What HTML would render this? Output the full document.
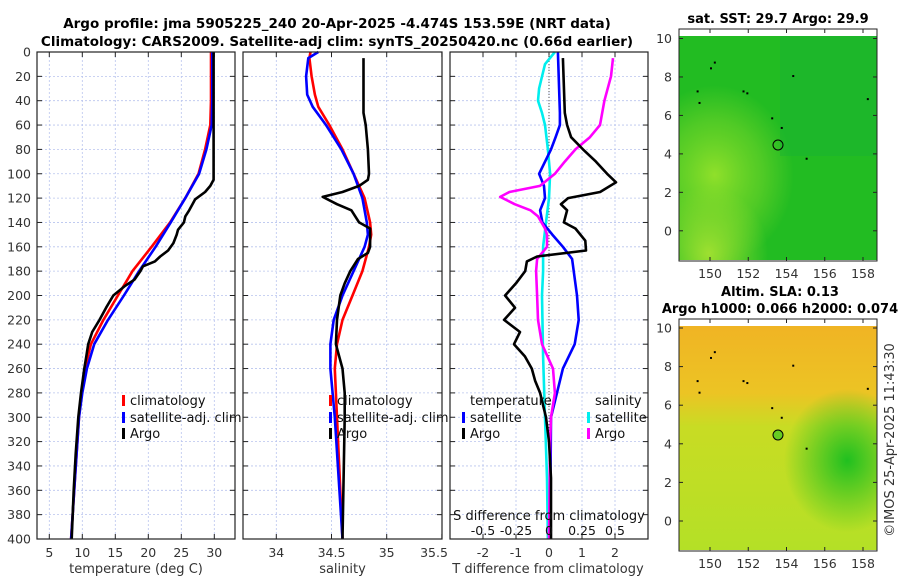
<!DOCTYPE html>
<html><head><meta charset="utf-8"><style>
body{margin:0;background:#fff}
svg{display:block;font-family:"DejaVu Sans","Liberation Sans",sans-serif}
</style></head><body>
<svg id="c" width="900" height="580" viewBox="0 0 900 580">
<defs>
<radialGradient id="g1" cx="0.18" cy="0.62" r="0.4"><stop offset="0" stop-color="#90e02a"/><stop offset="0.6" stop-color="#70d428" stop-opacity="0.6"/><stop offset="1" stop-color="#70d428" stop-opacity="0"/></radialGradient>
<radialGradient id="g1b" cx="0.15" cy="0.97" r="0.3"><stop offset="0" stop-color="#9ee030"/><stop offset="1" stop-color="#9ee030" stop-opacity="0"/></radialGradient>
<linearGradient id="g2" x1="0" y1="0" x2="0" y2="1"><stop offset="0" stop-color="#f0b424"/><stop offset="0.3" stop-color="#ecc424"/><stop offset="0.45" stop-color="#c8dc24"/><stop offset="1" stop-color="#b4e026"/></linearGradient>
<radialGradient id="g2b" cx="0.85" cy="0.6" r="0.32"><stop offset="0" stop-color="#20c020"/><stop offset="1" stop-color="#20c020" stop-opacity="0"/></radialGradient>
</defs>
<g font-weight="bold" font-size="13.5" text-anchor="middle" fill="#000">
<text x="337" y="28">Argo profile: jma 5905225_240 20-Apr-2025 -4.474S 153.59E (NRT data)</text>
<text x="337" y="46">Climatology: CARS2009. Satellite-adj clim: synTS_20250420.nc (0.66d earlier)</text>
</g>
<g id="panels"></g>
<g>
<text x="778" y="23" font-size="13" font-weight="bold" text-anchor="middle">sat. SST: 29.7 Argo: 29.9</text>
<rect x="679" y="36" width="198" height="224" fill="#22bc22"/>
<rect x="679" y="36" width="198" height="224" fill="url(#g1)"/>
<rect x="679" y="36" width="198" height="224" fill="url(#g1b)"/>
<rect x="780" y="36" width="97" height="120" fill="#14b038" opacity="0.35"/>
<circle cx="778" cy="145" r="5" fill="none" stroke="#000"/>
<rect x="679" y="29" width="198" height="232" fill="none" stroke="#222"/>
</g>
<g>
<text x="780" y="296" font-size="13" font-weight="bold" text-anchor="middle">Altim. SLA: 0.13</text>
<text x="780" y="313" font-size="13" font-weight="bold" text-anchor="middle">Argo h1000: 0.066 h2000: 0.074</text>
<rect x="679" y="326" width="198" height="224" fill="url(#g2)"/>
<rect x="679" y="326" width="198" height="224" fill="url(#g2b)"/>
<circle cx="778" cy="435" r="5" fill="#66cc22" stroke="#000"/>
<rect x="679" y="319" width="198" height="232" fill="none" stroke="#222"/>
</g>
<text transform="translate(894,440) rotate(-90)" font-size="13" fill="#333" text-anchor="middle">©IMOS 25-Apr-2025 11:43:30</text>
<g id="maps"></g>
</svg>
<script>
const depthTicks=[0,20,40,60,80,100,120,140,160,180,200,220,240,260,280,300,320,340,360,380,400];
const tDepth=[0,60,80,100,105,110,115,121,130,135,140,146,150,157,163,168,172,176,180,187,192,200,210,220,230,240,250,260,280,300,330,360,400];
const tArgo=[29.9,29.9,29.9,29.9,29.9,29.4,28.6,27.1,26.2,25.6,25.4,24.5,24.3,23.8,23,21.8,21,19.2,18.8,17.9,16.5,14.7,13.6,12.6,11.5,10.9,10.6,10.3,9.8,9.4,9,8.7,8.4];
const cDepth=[0,40,60,80,100,120,140,160,180,200,220,240,260,280,300,350,400];
const tClim=[29.5,29.5,29.4,28.6,27.6,25.6,23.3,20.5,17.6,15.4,13.2,11.3,10.4,9.9,9.5,8.9,8.3];
const tSat=[29.7,29.7,29.6,28.8,27.7,25.6,23.4,21.1,18.6,16.3,13.9,11.8,10.7,10,9.5,8.9,8.3];
const sDepth=[0,5,20,35,45,60,80,100,120,140,150,160,180,200,220,240,260,300,400];
const sClim=[34.31,34.3,34.32,34.35,34.38,34.48,34.6,34.7,34.8,34.85,34.86,34.84,34.78,34.69,34.6,34.55,34.53,34.55,34.6];
const sSat=[34.38,34.29,34.27,34.28,34.33,34.45,34.59,34.7,34.78,34.82,34.83,34.8,34.7,34.6,34.52,34.49,34.49,34.53,34.6];
const saDepth=[5,50,60,80,100,105,110,115,119,125,130,140,145,160,165,170,180,190,200,220,240,260,280,300,350,400];
const sArgo=[34.79,34.79,34.81,34.83,34.84,34.83,34.75,34.6,34.42,34.55,34.68,34.75,34.85,34.85,34.83,34.74,34.67,34.62,34.58,34.55,34.54,34.6,34.62,34.62,34.61,34.6];
const dtSatDepth=[0,50,60,70,80,100,110,120,130,140,150,160,170,200,220,240,260,300,400];
const dtSat=[0.27,0.33,0.33,0.2,0.06,-0.3,-0.15,-0.12,-0.27,-0.2,0.1,0.42,0.7,0.85,0.9,0.78,0.42,0.06,0.03];
const dtArgoDepth=[5,50,60,70,80,90,100,107,115,120,125,130,140,145,155,163,168,172,180,190,200,210,220,230,240,250,260,270,280,300,320,350,400];
const dtArgo=[0.42,0.48,0.55,0.67,1.03,1.42,1.76,2.03,1.55,0.58,0.36,0.55,0.45,0.8,1.1,1.12,-0.36,-0.67,-0.72,-1,-1.33,-1.03,-1.36,-0.88,-1.06,-0.73,-0.52,-0.42,-0.27,-0.09,0,0.06,0.06];
const dsSatDepth=[0,10,30,40,50,60,80,100,120,140,160,180,200,250,300,350,400];
const dsSat=[0.045,-0.03,-0.075,-0.083,-0.053,-0.03,-0.008,0.008,0,-0.023,-0.045,-0.045,-0.053,-0.045,-0.03,-0.015,-0.008];
const dsArgoDepth=[5,20,40,60,70,80,90,100,110,115,119,125,130,135,145,150,160,170,180,200,220,240,260,280,300,320,400];
const dsArgo=[0.485,0.47,0.42,0.386,0.31,0.2,0.12,0.045,-0.068,-0.3,-0.37,-0.26,-0.14,-0.083,-0.03,-0.015,-0.015,-0.09,-0.098,-0.09,-0.083,-0.053,0.03,0.045,0.015,0.008,0];
const tTicks=[5,10,15,20,25,30];
const sTicks=[34,34.5,35,35.5];
const dtTicks=[-2,-1,0,1,2];
const dtTickLabels=["-2","-1","0","1","2"];
const dsTicks=[-0.5,-0.25,0,0.25,0.5];
const dsTickLabels=["-0.5","-0.25","0","0.25","0.5"];
const latTicks=[10,8,6,4,2,0];
const lonTicks=[150,152,154,156,158];

const NS="http://www.w3.org/2000/svg";
function mk(tag,at,parent,txt){const e=document.createElementNS(NS,tag);for(const k in at)e.setAttribute(k,at[k]);if(txt!==undefined)e.textContent=txt;parent.appendChild(e);return e;}
const Y0=52,Y1=539;
const yD=d=>Y0+d*(Y1-Y0)/400;
const panelsG=document.getElementById('panels');
function lin(d0,d1,r0,r1){return v=>r0+(v-d0)*(r1-r0)/(d1-d0);}
const P=[
 {x0:37,x1:235,sc:lin(5,30,49.3,214.3),ticks:tTicks,labels:tTicks.map(String),xlabel:"temperature (deg C)",name:"temperature-panel"},
 {x0:243,x1:442,sc:lin(34,35,276.3,386.7),ticks:sTicks,labels:sTicks.map(String),xlabel:"salinity",name:"salinity-panel"},
 {x0:450,x1:648,sc:lin(0,1,549,582),ticks:dtTicks,labels:dtTickLabels,xlabel:"T difference from climatology",name:"difference-panel"}
];
P.forEach((p,i)=>{
 const g=mk('g',{},panelsG);
 
 
 p.g=g;
 const grid=[];
 if(i===0)tTicks.forEach(t=>grid.push(p.sc(t)));
 if(i===1)[34,34.5,35].forEach(t=>grid.push(p.sc(t)));
 if(i===2)[-2,-1,0,1,2].forEach(t=>grid.push(p.sc(t)));
 grid.forEach(x=>mk('line',{x1:x,x2:x,y1:Y0,y2:Y1,stroke:"#b8c4ee","stroke-width":0.8,"stroke-dasharray":"2,2"},g));
 depthTicks.forEach(d=>{if(d>0&&d<400)mk('line',{x1:p.x0,x2:p.x1,y1:yD(d),y2:yD(d),stroke:"#b8c4ee","stroke-width":0.8,"stroke-dasharray":"2,2"},g);
  mk('line',{x1:p.x0,x2:p.x0+5,y1:yD(d),y2:yD(d),stroke:"#222"},g);
  mk('line',{x1:p.x1-5,x2:p.x1,y1:yD(d),y2:yD(d),stroke:"#222"},g);});
 p.ticks.forEach((t,k)=>{const x=p.sc(t);
  if(x>p.x0&&x<p.x1){mk('line',{x1:x,x2:x,y1:Y1,y2:Y1-5,stroke:"#222"},g);mk('line',{x1:x,x2:x,y1:Y0,y2:Y0+5,stroke:"#222"},g);}
  const tx=mk('text',{x:(i===1&&t===35.5)?434:x,y:557,"font-size":12.5,fill:"#333","text-anchor":"middle"},g,p.labels[k]);
  
  });
 const xl=mk('text',{x:(p.x0+p.x1)/2+(i==2?-1:0),y:573,"font-size":13,fill:"#333","text-anchor":"middle"},g,p.xlabel);
 
 
});
depthTicks.forEach(d=>{const t=mk('text',{x:31,y:yD(d)+4.5,"font-size":12.5,fill:"#333","text-anchor":"end"},panelsG,String(d));
 
 });
mk('line',{x1:549,x2:549,y1:Y0,y2:Y1,stroke:"#555","stroke-dasharray":"1,2"},P[2].g);
function line(g,xs,ds,sc,col,name){const pts=xs.map((v,k)=>sc(v).toFixed(1)+","+yD(ds[k]).toFixed(1)).join(" ");
 const l=mk('polyline',{points:pts,fill:"none",stroke:col,"stroke-width":2.6,"stroke-linejoin":"round"},g);
 
 }
const tS=P[0].sc,sS=P[1].sc,dS=P[2].sc,dsS=v=>dS(v*4);
line(P[0].g,tClim,cDepth,tS,"#f00","temperature-climatology-line");
line(P[0].g,tSat,cDepth,tS,"#00f","temperature-satellite-line");
line(P[0].g,tArgo,tDepth,tS,"#000","temperature-argo-line");
line(P[1].g,sClim,sDepth,sS,"#f00","salinity-climatology-line");
line(P[1].g,sSat,sDepth,sS,"#00f","salinity-satellite-line");
line(P[1].g,sArgo,saDepth,sS,"#000","salinity-argo-line");
line(P[2].g,dsSat,dsSatDepth,dsS,"#0ee","salinity-satellite-diff-line");
line(P[2].g,dtSat,dtSatDepth,dS,"#00f","temperature-satellite-diff-line");
line(P[2].g,dsArgo,dsArgoDepth,dsS,"#f0f","salinity-argo-diff-line");
line(P[2].g,dtArgo,dtArgoDepth,dS,"#000","temperature-argo-diff-line");
const sl=mk('text',{x:549,y:520,"font-size":13,fill:"#111","text-anchor":"middle"},P[2].g,"S difference from climatology");


dsTicks.forEach((v,k)=>{const t=mk('text',{x:dsS(v),y:535,"font-size":12.5,fill:"#111","text-anchor":"middle"},P[2].g,dsTickLabels[k]);
 
 });
function leg(g,x,y,col,label){const e=mk('g',{},g);
 
 
 mk('rect',{x:x,y:y-10,width:3,height:11,fill:col},e);
 mk('text',{x:x+8,y:y,"font-size":13,fill:"#111"},e,label);}
[[P[0].g,122],[P[1].g,329]].forEach(([g,x])=>{leg(g,x,405,"#f00","climatology");leg(g,x,422,"#00f","satellite-adj. clim");leg(g,x,438,"#000","Argo");});
mk('text',{x:470,y:405,"font-size":13,fill:"#111"},P[2].g,"temperature");
leg(P[2].g,462,422,"#00f","satellite");leg(P[2].g,462,438,"#000","Argo");
mk('text',{x:595,y:405,"font-size":13,fill:"#111"},P[2].g,"salinity");
leg(P[2].g,587,422,"#0ee","satellite");leg(P[2].g,587,438,"#f0f","Argo");
P.forEach(p=>mk('rect',{x:p.x0,y:Y0,width:p.x1-p.x0,height:Y1-Y0,fill:"none",stroke:"#222","stroke-width":1.2},p.g));
const mapsG=document.getElementById('maps');
[[29,261,38.5,230.8],[319,551,328,521]].forEach(([t,b,y10,y0])=>{
 const ly=lin(10,0,y10,y0),lx=lin(150,158,710,863);
 latTicks.forEach(v=>{const y=ly(v);mk('line',{x1:679,x2:683,y1:y,y2:y,stroke:"#222"},mapsG);mk('line',{x1:873,x2:877,y1:y,y2:y,stroke:"#222"},mapsG);
  const tx=mk('text',{x:672,y:y+4.5,"font-size":12.5,fill:"#333","text-anchor":"end"},mapsG,String(v));
  
  });
 lonTicks.forEach(v=>{const x=lx(v);mk('line',{x1:x,x2:x,y1:b,y2:b-4,stroke:"#222"},mapsG);mk('line',{x1:x,x2:x,y1:t,y2:t+4,stroke:"#222"},mapsG);
  const tx=mk('text',{x:x,y:b+17,"font-size":12.5,fill:"#333","text-anchor":"middle"},mapsG,String(v));
  
  });
 [[150.2,8.8],[150,8.5],[149.3,7.3],[151.7,7.3],[151.9,7.2],[154.3,8.1],[153.2,5.9],[153.7,5.4],[155,3.8],[149.4,6.7],[158.2,6.9]].forEach(([a,c])=>mk('rect',{x:lx(a),y:ly(c),width:2,height:2,fill:"#000"},mapsG));
});
</script>
</body></html>
